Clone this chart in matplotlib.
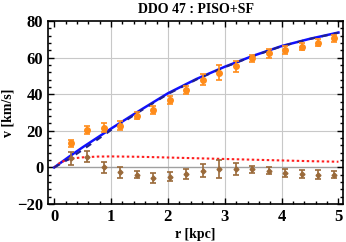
import numpy as np
import matplotlib
matplotlib.use('Agg')
import matplotlib.pyplot as plt
from matplotlib.ticker import MultipleLocator

# observed rotation curve
r_obs = [0.29, 0.58, 0.87, 1.16, 1.45, 1.74, 2.03, 2.32, 2.61, 2.90,
         3.19, 3.48, 3.77, 4.06, 4.35, 4.64, 4.93]
v_obs = [13.1, 20.4, 21.6, 22.7, 28.2, 31.4, 36.9, 42.3, 47.8, 51.8,
         55.4, 59.6, 62.3, 64.1, 65.9, 68.1, 70.5]
v_err = [2.0, 2.0, 2.5, 2.5, 2.0, 2.0, 2.0, 2.0, 3.0, 4.0,
         3.0, 2.0, 2.5, 2.0, 2.0, 2.0, 2.0]

# residuals
v_res = [4.9, 5.8, 0.0, -2.7, -4.0, -5.8, -5.0, -3.6, -1.8, -0.9,
         -0.9, -1.1, -1.8, -3.0, -3.6, -4.0, -4.0]
res_err = [3.5, 3.0, 3.0, 3.0, 2.0, 2.5, 2.5, 2.5, 3.5, 5.0,
           3.5, 2.0, 2.0, 2.0, 2.0, 2.5, 2.0]

# model curves
r_mod = [0.0, 0.25, 0.5, 1.0, 1.5, 2.0, 2.5, 3.0, 3.5, 4.0, 4.5, 5.0]
v_total = [0.0, 5.6, 11.0, 21.2, 31.0, 40.5, 48.3, 55.0, 61.0, 66.3, 70.3, 73.7]
v_sf = [0.0, 4.4, 9.6, 20.4, 30.5, 40.1, 48.0, 54.8, 60.8, 66.2, 70.2, 73.6]
r_gas = [0.0, 0.1, 0.2, 0.35, 0.5, 0.75, 1.0, 1.5, 2.0, 2.5, 3.0, 3.5, 4.0, 4.5, 5.0]
v_gas = [0.0, 2.5, 3.9, 5.0, 5.5, 5.9, 6.0, 5.8, 5.4, 5.0, 4.6, 4.2, 3.8, 3.4, 3.1]

plt.rcParams['font.family'] = ['Liberation Serif', 'DejaVu Serif']
plt.rcParams['font.weight'] = 'bold'

fig = plt.figure(figsize=(3.46, 2.42), dpi=100)
ax = fig.add_axes([48 / 346, 38 / 242, 295 / 346, 183 / 242])

# grid
for gx in [1, 2, 3, 4]:
    ax.axvline(gx, color='#c8c8c8', lw=0.8, zorder=0)
for gy in [20, 40, 60]:
    ax.axhline(gy, color='#c8c8c8', lw=0.8, zorder=0)
ax.axhline(0, color='#a0a0a0', lw=1.0, zorder=0)

# curves
ax.plot(r_mod, v_total, color='#1010ff', lw=1.8, zorder=2)
ax.plot(r_mod, v_sf, color='#202090', lw=1.5, ls=(0, (3, 3)), zorder=3)
ax.plot(r_gas, v_gas, color='#ff2020', lw=1.5, ls=(0, (1.2, 1.2)), zorder=2)

# data
ax.errorbar(r_obs, v_obs, yerr=v_err, fmt='o', color='#ff8c1a', ms=4,
            elinewidth=1.2, capsize=2.5, capthick=1.2, zorder=4)
ax.errorbar(r_obs, v_res, yerr=res_err, fmt='D', color='#9a6a3a', ms=2.5,
            elinewidth=1.2, capsize=2.5, capthick=1.2, zorder=4)

ax.set_xlim(-0.11, 5.08)
ax.set_ylim(-20, 80)
ax.xaxis.set_major_locator(MultipleLocator(1))
ax.xaxis.set_minor_locator(MultipleLocator(0.2))
ax.yaxis.set_major_locator(MultipleLocator(20))
ax.yaxis.set_minor_locator(MultipleLocator(4))
ax.tick_params(which='both', direction='in', top=True, right=True,
               labelsize=12, width=1.0)
ax.tick_params(which='major', length=4)
ax.tick_params(which='minor', length=2)
for s in ax.spines.values():
    s.set_linewidth(1.2)

ax.set_xlabel('r [kpc]', fontsize=10, fontweight='bold', labelpad=2)
ax.set_ylabel('v [km/s]', fontsize=10, fontweight='bold', labelpad=2)
ax.set_title('DDO 47 : PISO+SF', fontsize=10, fontweight='bold', pad=6)

fig.savefig('out.png', dpi=100)
